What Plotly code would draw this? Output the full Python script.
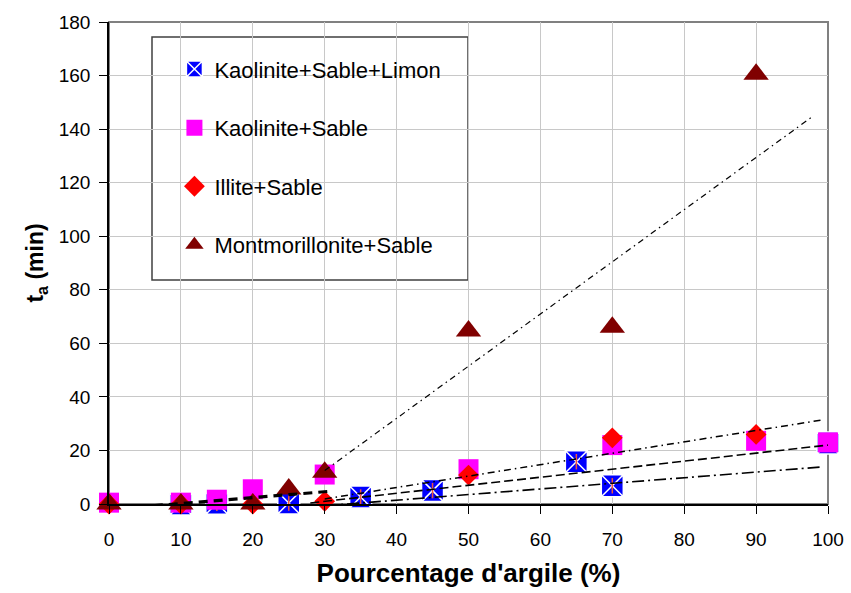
import plotly.graph_objects as go

# ---------------- data ----------------
ksl_x = [10, 15, 25, 35, 45, 65, 70, 100]          # Kaolinite+Sable+Limon
ksl_y = [0, 0.3, 0.4, 2.6, 5.0, 15.8, 6.8, 22.8]

ks_x = [0, 10, 15, 20, 30, 50, 70, 90, 100]         # Kaolinite+Sable
ks_y = [0.5, 0.5, 1.6, 5.5, 11, 13, 22, 23.6, 23]

is_x = [0, 10, 20, 30, 50, 70, 90]                  # Illite+Sable
is_y = [0, 0, 0, 1, 10.8, 24.7, 26]

ms_x = [0, 10, 20, 25, 30, 50, 70, 90]              # Montmorillonite+Sable
ms_y = [0, 0, 0, 5.6, 11.9, 64.6, 66, 160.5]

# trend lines (end points)
tr_ms_x, tr_ms_y = [30, 98], [12.5, 145]
tr_is_x, tr_is_y = [30, 99], [1.9, 31.3]
tr_ks_x, tr_ks_y = [28, 100], [0.4, 22]
tr_ksl_x, tr_ksl_y = [27, 99], [-1.3, 13.8]
tr_low_x, tr_low_y = [0, 31], [-2, 4.8]

names = ["Kaolinite+Sable+Limon", "Kaolinite+Sable", "Illite+Sable", "Montmorillonite+Sable"]
colors = ["#0000FF", "#FF00FF", "#FF0000", "#800000"]

xticks = list(range(0, 101, 10))
yticks = list(range(0, 181, 20))

FONT = "Liberation Sans, Arial, sans-serif"

fig = go.Figure()

# markers
fig.add_trace(go.Scatter(x=ksl_x, y=ksl_y, mode="markers", name=names[0] + "\u00a0\u00a0",
                         legendgroup="g1",
                         marker=dict(symbol="square-x", size=22, color=colors[0],
                                     line=dict(color="white", width=1.5)),
                         cliponaxis=False))
fig.add_trace(go.Scatter(x=ksl_x, y=ksl_y, mode="markers", showlegend=False, legendgroup="g1",
                         marker=dict(symbol="line-ns-open", size=11,
                                     line=dict(color="white", width=1.5)),
                         cliponaxis=False, hoverinfo="skip"))
fig.add_trace(go.Scatter(x=ks_x, y=ks_y, mode="markers", name=names[1], legendgroup="g2",
                         marker=dict(symbol="square", size=20, color=colors[1]),
                         cliponaxis=False))
fig.add_trace(go.Scatter(x=is_x, y=is_y, mode="markers", name=names[2], legendgroup="g3",
                         marker=dict(symbol="diamond", size=16, color=colors[2]),
                         cliponaxis=False))
fig.add_trace(go.Scatter(x=ms_x, y=ms_y, mode="markers", name=names[3], legendgroup="g4",
                         marker=dict(symbol="triangle-up", size=22, color=colors[3]),
                         cliponaxis=False))

# trend lines
def tline(x, y, dash, width):
    fig.add_trace(go.Scatter(x=x, y=y, mode="lines", showlegend=False, hoverinfo="skip",
                             line=dict(color="black", dash=dash, width=width),
                             cliponaxis=False))

tline(tr_ms_x, tr_ms_y, "6px,4px,1.5px,4px", 1.2)
tline(tr_is_x, tr_is_y, "7px,4px,1.5px,4px", 1.5)
tline(tr_ks_x, tr_ks_y, "9px,4px", 1.6)
tline(tr_ksl_x, tr_ksl_y, "12px,4px,2px,4px", 1.6)
tline(tr_low_x, tr_low_y, "9px,6px", 3.2)

# plot area border (top/right grey) and legend box
fig.add_shape(type="rect", xref="paper", yref="paper", x0=0, x1=1, y0=0, y1=1,
              line=dict(color="#808080", width=2), layer="between")
fig.add_shape(type="rect", xref="paper", yref="paper",
              x0=(152 - 109) / 719, x1=(468 - 109) / 719,
              y0=(504 - 280) / 482, y1=(504 - 37) / 482,
              line=dict(color="#404040", width=1.5), fillcolor="white", layer="between")

fig.update_layout(
    width=851, height=593,
    margin=dict(l=109, r=23, t=22, b=89, autoexpand=False),
    paper_bgcolor="white", plot_bgcolor="white",
    font=dict(family=FONT, color="black"),
    showlegend=True,
    legend=dict(x=0.091, y=0.9455, xanchor="left", yanchor="top",
                bgcolor="rgba(0,0,0,0)", borderwidth=0,
                font=dict(size=22, family=FONT, color="black"),
                traceorder="grouped", tracegroupgap=27),
    xaxis=dict(range=[0, 100], tickvals=xticks, ticktext=[str(v) for v in xticks],
               showgrid=True, gridcolor="#C8C8C8", gridwidth=1,
               showline=True, linecolor="black", linewidth=1.5,
               ticks="outside", ticklen=8, tickcolor="black",
               tickfont=dict(size=19), ticklabelstandoff=9,
               zeroline=False, automargin=False,
               title=dict(text="<b>Pourcentage d'argile (%)</b>", font=dict(size=26), standoff=15)),
    yaxis=dict(range=[0, 180], tickvals=yticks, ticktext=[str(v) for v in yticks],
               showgrid=True, gridcolor="#C8C8C8", gridwidth=1,
               showline=True, linecolor="black", linewidth=1.5,
               ticks="outside", ticklen=8, tickcolor="black",
               tickfont=dict(size=19), ticklabelstandoff=5,
               zeroline=False, automargin=False,
               title=dict(text="<b>t<sub>a</sub> (min)</b>", font=dict(size=23), standoff=9)),
)

fig.write_html("out.html", config={"displayModeBar": False},
               post_script="document.body.style.margin='0';")
